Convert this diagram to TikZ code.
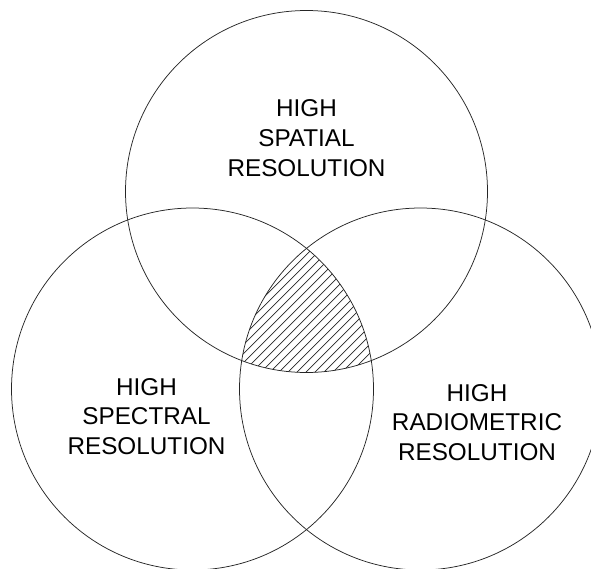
\documentclass[tikz,border=0pt]{standalone}
\usepackage{fontspec}
\setmainfont{Liberation Sans}
\begin{document}
\begin{tikzpicture}[x=1pt,y=-1pt,
  ring/.style={draw=black!85,line width=0.75pt},
  hatch/.style={draw=black!85,line width=0.7pt},
  lbl/.style={align=center,inner sep=0pt,font=\fontsize{24.3}{29.7}\selectfont}]
\useasboundingbox (0,0) rectangle (591,568);
\clip (0,0) rectangle (591,568);
\coordinate (ct) at (306.5,191.5);
\coordinate (cl) at (192.5,389);
\coordinate (cr) at (420.5,389);
\begin{scope}
  \clip (ct) circle[radius=181];
  \clip (cl) circle[radius=181];
  \clip (cr) circle[radius=181];
  \foreach \c in {480,489,...,760}{
    \draw[hatch] (\c-400,400) -- (\c-200,200);
  }
\end{scope}
\draw[ring] (ct) circle[radius=181];
\draw[ring] (cl) circle[radius=181];
\draw[ring] (cr) circle[radius=181];
\node[lbl] (top) at (306.5,138) {HIGH\\SPATIAL\\RESOLUTION};
\node[lbl] (left) at (146.5,416.5) {HIGH\\SPECTRAL\\RESOLUTION};
\node[lbl] (right) at (477,422.5) {HIGH\\RADIOMETRIC\\RESOLUTION};
\end{tikzpicture}
\end{document}
